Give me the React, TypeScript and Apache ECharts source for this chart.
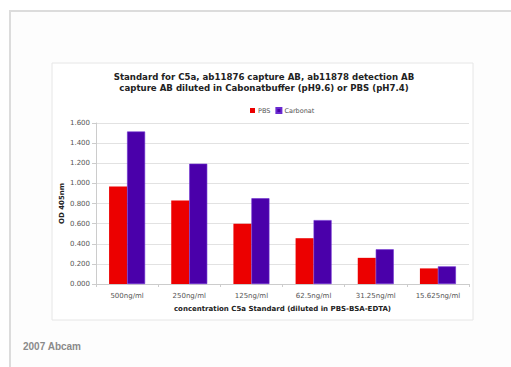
import React, { useEffect, useRef } from "react";
import * as echarts from "echarts";

const categories = ["500ng/ml", "250ng/ml", "125ng/ml", "62.5ng/ml", "31.25ng/ml", "15.625ng/ml"];
const pbsValues = [0.97, 0.83, 0.6, 0.455, 0.26, 0.155];
const carbonatValues = [1.515, 1.195, 0.852, 0.635, 0.345, 0.175];
const titleLines = [
  "Standard for C5a, ab11876 capture AB, ab11878 detection AB",
  "capture AB diluted in Cabonatbuffer (pH9.6) or PBS (pH7.4)",
];

export default function App() {
  const ref = useRef<HTMLDivElement>(null);
  useEffect(() => {
    document.body.style.margin = "0";
    const chart = echarts.init(ref.current!, null, { renderer: "svg" });
    const font = "DejaVu Sans";
    chart.setOption({
      animation: false,
      backgroundColor: "#ffffff",
      graphic: [
        {
          type: "rect",
          shape: { x: 10, y: 11, width: 520, height: 380 },
          style: { fill: "#fdfdfd", stroke: "#dcdcdc", lineWidth: 2 },
          z: -10,
        },
        {
          type: "rect",
          shape: { x: 52, y: 63, width: 421, height: 257 },
          style: { fill: "#ffffff", stroke: "#e6e6e6", lineWidth: 1 },
          z: -9,
        },
        {
          type: "text",
          x: 23,
          y: 341,
          style: { text: "2007 Abcam", font: "bold 10px 'Liberation Sans'", fill: "#8a8a8a" },
        },
      ],
      title: {
        text: titleLines.join("\n"),
        left: 259,
        top: 66,
        textAlign: "center",
        textStyle: { fontFamily: font, fontWeight: "bold", fontSize: 8.6, lineHeight: 11, color: "#222" },
      },
      legend: {
        data: ["PBS", "Carbonat"],
        left: 245,
        top: 102,
        itemWidth: 5,
        itemHeight: 5,
        itemGap: 5,
        icon: "rect",
        textStyle: { fontFamily: font, fontSize: 6.5, color: "#555", padding: [0, 0, 0, -2] },
      },
      grid: { left: 96, right: 42, top: 123, bottom: 83 },
      xAxis: {
        type: "category",
        data: categories,
        name: "concentration C5a Standard (diluted in PBS-BSA-EDTA)",
        nameLocation: "middle",
        nameGap: 21,
        nameTextStyle: { fontFamily: font, fontWeight: "bold", fontSize: 7, color: "#222" },
        axisLine: { lineStyle: { color: "#cccccc" } },
        axisTick: { show: true, length: 3, lineStyle: { color: "#cccccc" } },
        axisLabel: { fontFamily: font, fontSize: 7, color: "#555", margin: 8 },
      },
      yAxis: {
        type: "value",
        min: 0,
        max: 1.6,
        interval: 0.2,
        name: "OD 405nm",
        nameLocation: "middle",
        nameGap: 31,
        nameMoveOverlap: false,
        nameTextStyle: { fontFamily: font, fontWeight: "bold", fontSize: 7, color: "#222" },
        axisLine: { show: true, lineStyle: { color: "#cccccc" } },
        axisTick: { show: true, length: 4, lineStyle: { color: "#cccccc" } },
        axisLabel: {
          fontFamily: font,
          fontSize: 7,
          color: "#555",
          margin: 6,
          formatter: (v: number) => v.toFixed(3),
        },
        splitLine: { lineStyle: { color: "#e2e2e2" } },
      },
      series: [
        {
          name: "PBS",
          type: "bar",
          data: pbsValues,
          barWidth: 18,
          barGap: "0%",
          itemStyle: { color: "#ec0000" },
        },
        {
          name: "Carbonat",
          type: "bar",
          data: carbonatValues,
          barWidth: 18,
          itemStyle: { color: "#4a00aa", borderColor: "#6a2ad0", borderWidth: 0.6 },
        },
      ],
    });
    return () => chart.dispose();
  }, []);
  return <div ref={ref} style={{ width: 511, height: 367 }} />;
}
